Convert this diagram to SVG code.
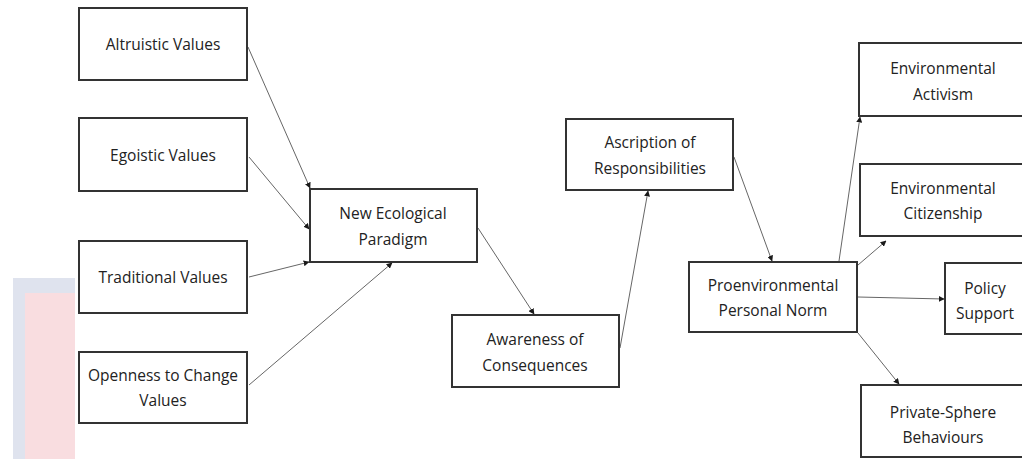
<svg xmlns="http://www.w3.org/2000/svg" width="1022" height="459" viewBox="0 0 1022 459">
  <style>
    .box { fill: #ffffff; stroke: #333333; stroke-width: 2; }
    .lbl { font-family: "Open Sans", "Liberation Sans", sans-serif; font-size: 15.5px; fill: #222222; text-anchor: middle; dominant-baseline: central; }
    .edge { fill: none; stroke: #666666; stroke-width: 1; marker-end: url(#tip); }
  </style>
  <defs>
    <marker id="tip" viewBox="0 0 10 10" refX="9" refY="5" markerWidth="6" markerHeight="6" markerUnits="userSpaceOnUse" orient="auto">
      <path d="M0,0 L10,5 L0,10 z" fill="#1a1a1a"/>
    </marker>
  </defs>

  <rect width="1022" height="459" fill="#ffffff"/>

  <!-- faint backdrop panel, lower left -->
  <g id="backdrop">
    <rect x="13" y="278" width="62" height="181" fill="#dfe3ee"/>
    <rect x="25" y="293" width="50" height="166" fill="#f9dde0"/>
  </g>

  <!-- connectors -->
  <g id="connectors">
    <line class="edge" x1="248" y1="47" x2="310" y2="188"/>
    <line class="edge" x1="249" y1="157" x2="309" y2="229"/>
    <line class="edge" x1="249" y1="277" x2="309" y2="262"/>
    <line class="edge" x1="249" y1="385" x2="392" y2="263"/>
    <line class="edge" x1="478" y1="228" x2="534" y2="314"/>
    <line class="edge" x1="620" y1="348" x2="648" y2="191"/>
    <line class="edge" x1="734" y1="157" x2="772" y2="261"/>
    <line class="edge" x1="839" y1="261" x2="860" y2="117"/>
    <line class="edge" x1="858" y1="265" x2="886" y2="241"/>
    <line class="edge" x1="858" y1="297" x2="944" y2="299"/>
    <line class="edge" x1="858" y1="333" x2="899" y2="384"/>
  </g>

  <g id="altruistic">
    <rect class="box" x="79" y="8" width="168" height="72"/>
    <text class="lbl" x="163" y="44">Altruistic Values</text>
  </g>
  <g id="egoistic">
    <rect class="box" x="79" y="118" width="168" height="73"/>
    <text class="lbl" x="163" y="155">Egoistic Values</text>
  </g>
  <g id="traditional">
    <rect class="box" x="79" y="241" width="168" height="72"/>
    <text class="lbl" x="163" y="277">Traditional Values</text>
  </g>
  <g id="openness">
    <rect class="box" x="79" y="352" width="168" height="71"/>
    <text class="lbl" x="163" y="375">Openness to Change</text>
    <text class="lbl" x="163" y="400">Values</text>
  </g>
  <g id="nep">
    <rect class="box" x="310" y="189" width="167" height="73"/>
    <text class="lbl" x="393" y="213">New Ecological</text>
    <text class="lbl" x="393" y="239">Paradigm</text>
  </g>
  <g id="awareness">
    <rect class="box" x="452" y="315" width="167" height="72"/>
    <text class="lbl" x="535" y="339">Awareness of</text>
    <text class="lbl" x="535" y="365">Consequences</text>
  </g>
  <g id="ascription">
    <rect class="box" x="566" y="119" width="167" height="71"/>
    <text class="lbl" x="650" y="142">Ascription of</text>
    <text class="lbl" x="650" y="168">Responsibilities</text>
  </g>
  <g id="personal-norm">
    <rect class="box" x="689" y="262" width="168" height="70"/>
    <text class="lbl" x="773" y="285">Proenvironmental</text>
    <text class="lbl" x="773" y="310">Personal Norm</text>
  </g>
  <g id="activism">
    <rect class="box" x="859" y="43" width="172" height="73"/>
    <text class="lbl" x="943" y="68">Environmental</text>
    <text class="lbl" x="943" y="94">Activism</text>
  </g>
  <g id="citizenship">
    <rect class="box" x="860" y="164" width="172" height="72"/>
    <text class="lbl" x="943" y="188">Environmental</text>
    <text class="lbl" x="943" y="213">Citizenship</text>
  </g>
  <g id="policy">
    <rect class="box" x="945" y="263" width="85" height="71"/>
    <text class="lbl" x="985" y="288">Policy</text>
    <text class="lbl" x="985" y="313">Support</text>
  </g>
  <g id="private-sphere">
    <rect class="box" x="861" y="385" width="172" height="72"/>
    <text class="lbl" x="943" y="412">Private-Sphere</text>
    <text class="lbl" x="943" y="437">Behaviours</text>
  </g>
</svg>
